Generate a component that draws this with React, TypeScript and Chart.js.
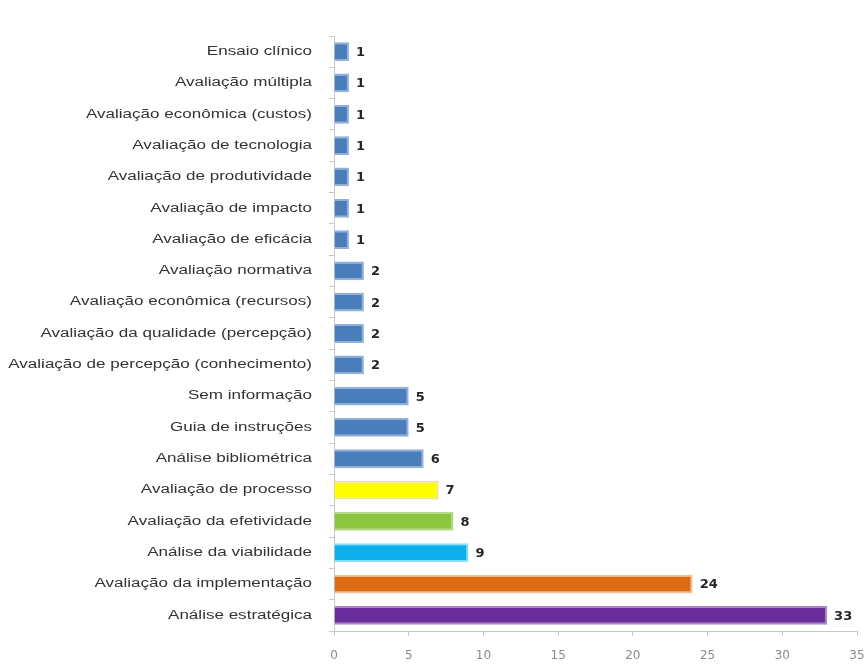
import React, { useEffect, useRef } from "react";
import { Chart, registerables } from "chart.js";

Chart.register(...registerables);

const categories: string[] = [
  "Ensaio clínico",
  "Avaliação múltipla",
  "Avaliação econômica (custos)",
  "Avaliação de tecnologia",
  "Avaliação de produtividade",
  "Avaliação de impacto",
  "Avaliação de eficácia",
  "Avaliação normativa",
  "Avaliação econômica (recursos)",
  "Avaliação da qualidade (percepção)",
  "Avaliação de percepção (conhecimento)",
  "Sem informação",
  "Guia de instruções",
  "Análise bibliométrica",
  "Avaliação de processo",
  "Avaliação da efetividade",
  "Análise da viabilidade",
  "Avaliação da implementação",
  "Análise estratégica",
];

const counts: number[] = [1, 1, 1, 1, 1, 1, 1, 2, 2, 2, 2, 5, 5, 6, 7, 8, 9, 24, 33];

const BLUE = "#4A7EBB";
const BLUE_EDGE = "#8FB0DA";
const barColors: string[] = [
  BLUE, BLUE, BLUE, BLUE, BLUE, BLUE, BLUE, BLUE, BLUE, BLUE, BLUE, BLUE, BLUE, BLUE,
  "#FFFF00",
  "#8CC63F",
  "#0DAEEB",
  "#DD6B14",
  "#6B2D9C",
];
const barBorders: string[] = [
  BLUE_EDGE, BLUE_EDGE, BLUE_EDGE, BLUE_EDGE, BLUE_EDGE, BLUE_EDGE, BLUE_EDGE,
  BLUE_EDGE, BLUE_EDGE, BLUE_EDGE, BLUE_EDGE, BLUE_EDGE, BLUE_EDGE, BLUE_EDGE,
  "#E6E68C",
  "#B4D98C",
  "#86DDF8",
  "#F2C196",
  "#A886C8",
];

const xMin = 0;
const xMax = 35;
const xStep = 5;

// Category names are drawn by hand so they can be widened horizontally.
const LABEL_STRETCH = 1.42;
const LABEL_RIGHT = 312;

const categoryLabels = {
  id: "categoryLabels",
  afterDraw(chart: any) {
    const { ctx } = chart;
    const yScale = chart.scales.y;
    ctx.save();
    ctx.font = "12px 'Liberation Sans', Arial, sans-serif";
    ctx.fillStyle = "#333333";
    ctx.textAlign = "right";
    ctx.textBaseline = "middle";
    categories.forEach((name, i) => {
      const y = yScale.getPixelForTick(i);
      ctx.save();
      ctx.translate(LABEL_RIGHT, y);
      ctx.scale(LABEL_STRETCH, 1);
      ctx.fillText(name, 0, 0);
      ctx.restore();
    });
    ctx.restore();
  },
};

const valueLabels = {
  id: "valueLabels",
  afterDatasetsDraw(chart: any) {
    const { ctx } = chart;
    const meta = chart.getDatasetMeta(0);
    ctx.save();
    ctx.font = "bold 13px 'DejaVu Sans', sans-serif";
    ctx.fillStyle = "#262626";
    ctx.textAlign = "left";
    ctx.textBaseline = "middle";
    meta.data.forEach((bar: any, i: number) => {
      ctx.fillText(String(counts[i]), bar.x + 7, bar.y + 1);
    });
    ctx.restore();
  },
};

export default function App() {
  const canvasRef = useRef<HTMLCanvasElement | null>(null);

  useEffect(() => {
    if (!canvasRef.current) return;
    const chart = new Chart(canvasRef.current, {
      type: "bar",
      data: {
        labels: categories,
        datasets: [
          {
            data: counts,
            backgroundColor: barColors,
            borderColor: barBorders,
            borderWidth: 2,
            barPercentage: 0.6,
            categoryPercentage: 1,
          },
        ],
      },
      options: {
        indexAxis: "y",
        animation: false,
        responsive: false,
        maintainAspectRatio: false,
        layout: { padding: { top: 36, right: 10, left: 0, bottom: 0 } },
        plugins: {
          legend: { display: false },
          tooltip: { enabled: false },
        },
        scales: {
          x: {
            min: xMin,
            max: xMax,
            ticks: {
              stepSize: xStep,
              color: "#8A8A8A",
              font: { family: "'DejaVu Sans', sans-serif", size: 12 },
              padding: 13,
            },
            grid: {
              drawOnChartArea: false,
              drawTicks: true,
              tickLength: 5,
              color: "#C8C8C8",
            },
            border: { display: true, color: "#C8C8C8" },
            afterFit: (scale: any) => {
              scale.height = 34;
              scale.paddingRight = 0;
            },
          },
          y: {
            ticks: {
              display: false,
              autoSkip: false,
            },
            grid: {
              drawOnChartArea: false,
              drawTicks: true,
              tickLength: 5,
              color: "#C8C8C8",
              offset: true,
            },
            border: { display: true, color: "#C8C8C8" },
            afterFit: (scale: any) => {
              scale.width = 334;
            },
          },
        },
      },
      plugins: [valueLabels, categoryLabels],
    });
    return () => chart.destroy();
  }, []);

  return (
    <div style={{ position: "fixed", left: 0, top: 0, width: 867, height: 665, background: "#ffffff" }}>
      <canvas ref={canvasRef} width={867} height={665} />
    </div>
  );
}
